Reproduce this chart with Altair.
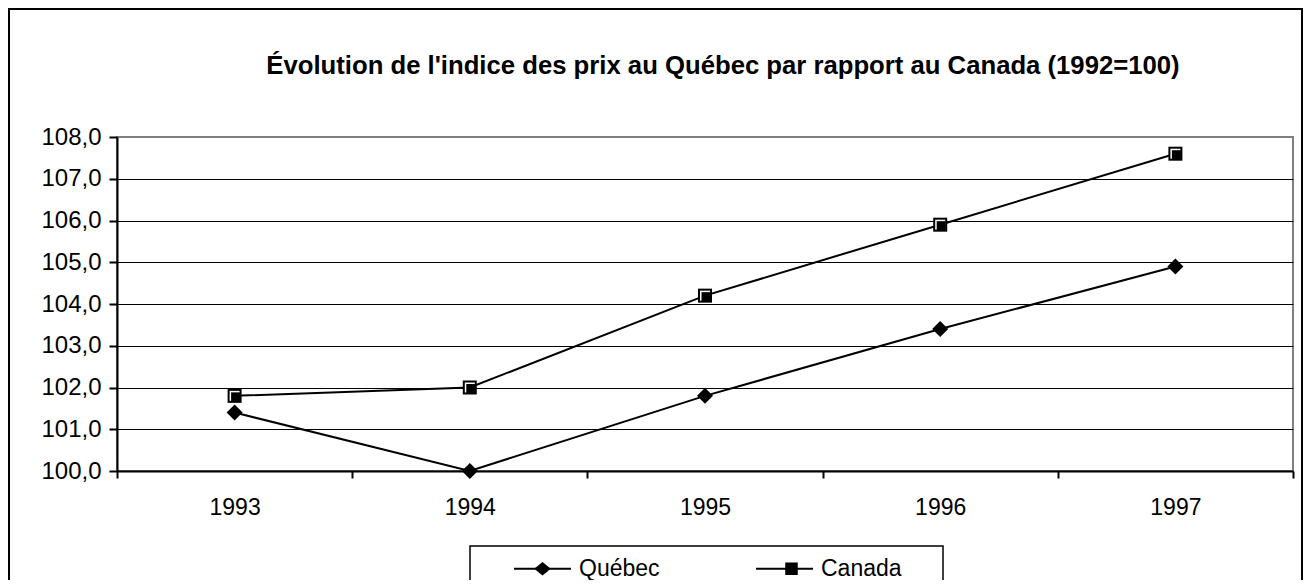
import altair as alt
import pandas as pd

years = ["1993", "1994", "1995", "1996", "1997"]
quebec = [101.4, 100.0, 101.8, 103.4, 104.9]
canada = [101.8, 102.0, 104.2, 105.9, 107.6]
series_names = ["Québec", "Canada"]
y_ticks = [100, 101, 102, 103, 104, 105, 106, 107, 108]
title_text = "Évolution de l'indice des prix au Québec par rapport au Canada (1992=100)"

FONT = "Liberation Sans"

df = pd.DataFrame({
    "year": years * 2,
    "value": quebec + canada,
    "series": [series_names[0]] * len(years) + [series_names[1]] * len(years),
})
marker_names = [s + "_m" for s in series_names]
df["marker"] = df["series"] + "_m"

x_enc = alt.X(
    "year:O", title=None, sort=years,
    scale=alt.Scale(type="band", paddingInner=0, paddingOuter=0),
    axis=alt.Axis(labelAngle=0, tickBand="extent", tickSize=7, labelPadding=18,
                  grid=False, labelFontSize=23),
)
y_enc = alt.Y(
    "value:Q", title=None,
    scale=alt.Scale(domain=[100, 108], nice=False, zero=False),
    axis=alt.Axis(
        values=y_ticks, tickSize=8, labelPadding=8, labelFontSize=24,
        labelExpr="replace(format(datum.value, '.1f'), '.', ',')",
        grid=True, gridWidth=1,
        gridColor=alt.condition("datum.value >= 108", alt.value("#808080"), alt.value("black")),
    ),
)

LEG_X, LEG_Y = 396, 402
SYM = 3249
COLPAD = 92
COLPAD_MARKERS = 183

base = alt.Chart(df)

lines = base.mark_line(strokeWidth=2).encode(
    x=x_enc, y=y_enc,
    color=alt.Color(
        "series:N",
        scale=alt.Scale(domain=series_names, range=["black", "black"]),
        legend=alt.Legend(
            title=None, orient="none", legendX=LEG_X, legendY=LEG_Y, direction="horizontal",
            columns=2, columnPadding=COLPAD, padding=0, labelOffset=7,
            labelFont=FONT, labelFontSize=23, labelColor="black",
            symbolType="stroke", symbolSize=SYM, symbolStrokeWidth=2,
            symbolStrokeColor="black", symbolOpacity=1,
        ),
    ),
)

q_pts = base.transform_filter("datum.series == 'Québec'").mark_point(
    shape="diamond", filled=True, color="black", size=256, opacity=1
).encode(x=x_enc, y=y_enc)

c_outer = base.transform_filter("datum.series == 'Canada'").mark_point(
    shape="square", filled=True, color="black", size=196, opacity=1
).encode(x=x_enc, y=y_enc)
c_white = base.transform_filter("datum.series == 'Canada'").mark_point(
    shape="square", filled=True, color="white", size=100, opacity=1
).encode(x=x_enc, y=y_enc)
c_inner = base.transform_filter("datum.series == 'Canada'").mark_point(
    shape="square", filled=True, color="black", size=81, opacity=1, xOffset=1, yOffset=1
).encode(x=x_enc, y=y_enc)

path_q = "M-0.29,0L0,-0.24L0.29,0L0,0.24Z"
path_c = "M-0.22,-0.22L0.22,-0.22L0.22,0.22L-0.22,0.22Z"

legend_markers = base.transform_filter("false").mark_point(
    filled=True, color="black", opacity=1
).encode(
    x=x_enc, y=y_enc,
    shape=alt.Shape(
        "marker:N",
        scale=alt.Scale(domain=marker_names, range=[path_q, path_c]),
        legend=alt.Legend(
            title=None, orient="none", legendX=LEG_X, legendY=LEG_Y, direction="horizontal",
            columns=2, columnPadding=COLPAD_MARKERS, padding=0, labelOffset=7,
            labelExpr="''",
            labelFont=FONT, labelFontSize=23, labelColor="black",
            symbolSize=SYM, symbolFillColor="black", symbolOpacity=1,
        ),
    ),
)

frame_df = pd.DataFrame({"k": [0]})
frame = alt.Chart(frame_df).mark_rect(filled=False, stroke="black", strokeWidth=2).encode(
    x=alt.value(-108), x2=alt.value(1185), y=alt.value(-128), y2=alt.value(470)
)
legend_box = alt.Chart(frame_df).mark_rect(filled=False, stroke="black", strokeWidth=1.5).encode(
    x=alt.value(353), x2=alt.value(826), y=alt.value(409), y2=alt.value(450)
)

chart = alt.layer(
    frame, legend_box, lines, q_pts, c_outer, c_white, c_inner, legend_markers
).properties(
    width=1176, height=334,
    autosize=alt.AutoSizeParams(type="none"),
    padding={"left": 109, "top": 129, "right": 10, "bottom": 109},
    title=alt.Title(
        title_text, font=FONT, fontSize=25.7, fontWeight="bold", color="black",
        anchor="middle", baseline="alphabetic", dx=18, dy=92, offset=0,
    ),
    background="white",
).configure_view(
    stroke="#808080", strokeWidth=2
).configure_axis(
    domainColor="black", domainWidth=2, tickColor="black", tickWidth=2,
    labelColor="black", labelFont=FONT,
)

chart.save("out.html", embed_options={"renderer": "svg", "actions": False})
